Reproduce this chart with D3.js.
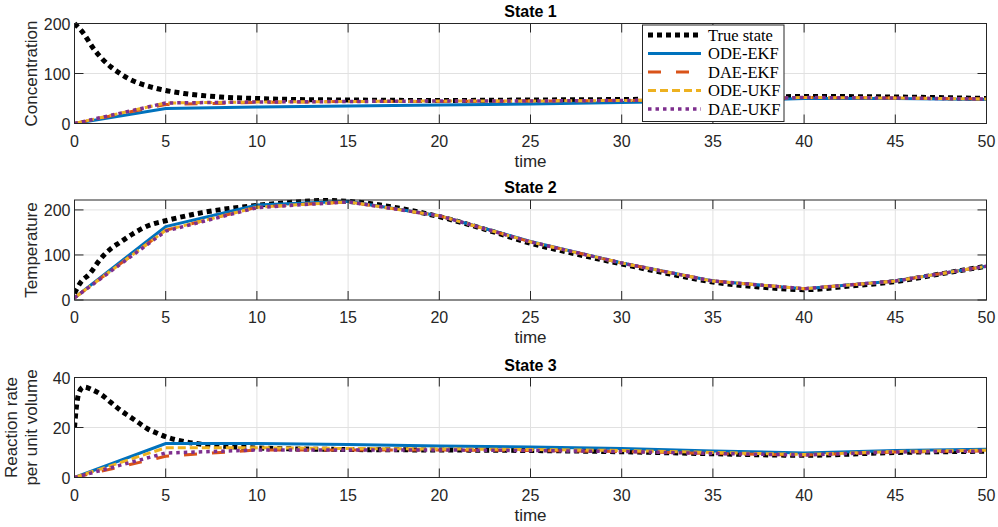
<!DOCTYPE html>
<html>
<head>
<meta charset="utf-8">
<script src="https://cdn.jsdelivr.net/npm/d3@7"></script>
<style>
  body { margin: 0; background: #fff; }
  svg { display: block; }
</style>
</head>
<body>
<div id="chart"></div>
<script>
// filter estimates are sampled every 5 time units
const tKnots = [0, 5, 10, 15, 20, 25, 30, 35, 40, 45, 50];

// State 1 - concentration
const tTrue1 = [0, 0.5, 1, 1.5, 2, 2.5, 3, 3.5, 4, 4.5, 5, 6, 7, 8, 10, 12, 15, 20, 25, 30, 35, 40, 45, 50];
const conc_true = [200, 180, 152, 130, 113, 100, 89, 81, 75, 70, 66, 60, 56, 53, 50, 48, 47, 46, 47, 48, 50, 54, 53, 50];
const conc_ode_ekf = [0, 30, 33, 35, 37, 39, 42, 45, 50, 50, 48];
const conc_dae_ekf = [0, 38, 42, 44, 44, 45, 46, 48, 52, 51, 49];
const conc_ode_ukf = [0, 41, 43, 44, 45, 45, 46, 48, 52, 51, 49];
const conc_dae_ukf = [0, 41, 43, 44, 45, 45, 46, 48, 52, 51, 49];

// State 2 - temperature
const tTrue2 = [0, 0.3, 0.85, 1.4, 2, 2.5, 3.2, 4.1, 5, 7, 10, 12, 13.5, 15, 17.5, 20, 22.5, 25, 27.5, 30, 32.5, 35, 37.5, 40, 42.5, 45, 47.5, 50];
const temp_true = [15, 37, 59, 90, 114, 128, 147, 166, 176, 194, 210, 217, 221, 219, 206, 185, 157, 126, 102, 80, 59, 40, 29, 23, 31, 41, 58, 75];
const temp_ode_ekf = [5, 163, 211, 219, 187, 130, 82, 42, 25, 42, 75];
const temp_dae_ekf = [5, 155, 206, 218, 187, 129, 82, 42, 25, 42, 75];
const temp_ode_ukf = [5, 155, 206, 218, 187, 129, 82, 42, 25, 42, 75];
const temp_dae_ukf = [5, 153, 205, 218, 187, 129, 82, 42, 25, 42, 75];

// State 3 - reaction rate per unit volume
const tTrue3 = [0, 0.1, 0.25, 0.5, 1, 1.5, 2, 2.5, 3, 3.5, 4, 4.5, 5, 6, 7, 8, 10, 15, 20, 25, 30, 35, 40, 45, 50];
const rate_true = [20, 28, 34, 36.2, 35, 33, 30, 27, 24.5, 22, 19.5, 17.8, 16.3, 14.4, 13.3, 12.6, 11.8, 11.2, 11, 10.8, 10.3, 9.5, 8.9, 10, 10.5];
const rate_ode_ekf = [0, 13.6, 13.6, 13.2, 12.6, 12.2, 11.6, 10.6, 9.8, 10.8, 11.3];
const rate_dae_ekf = [0, 8.5, 11.0, 11.0, 11.0, 10.8, 10.4, 9.6, 9.0, 10.2, 10.6];
const rate_ode_ukf = [0, 11.9, 11.9, 11.6, 11.4, 11.2, 10.8, 10.0, 9.2, 10.4, 10.9];
const rate_dae_ukf = [0, 9.8, 11.0, 11.0, 11.0, 10.8, 10.4, 9.6, 9.0, 10.2, 10.6];

const xTicks = [0, 5, 10, 15, 20, 25, 30, 35, 40, 45, 50];
const legendLabels = ["True state", "ODE-EKF", "DAE-EKF", "ODE-UKF", "DAE-UKF"];

const width = 998, height = 527;
const left = 74.5, right = 986.5;

// one style per series, same order as legendLabels
const styles = [
  { color: "#000000", width: 5, dash: "5,4" },
  { color: "#0072BD", width: 3, dash: null },
  { color: "#D95319", width: 3, dash: "13,15" },
  { color: "#EDB120", width: 3, dash: "8,4" },
  { color: "#7E2F8E", width: 3.5, dash: "3.5,4" }
];

const panels = [
  { title: "State 1", top: 23.5, bottom: 123.5, ymax: 200, yTicks: [0, 100, 200], ylabel: ["Concentration"],
    tTrue: tTrue1, yTrue: conc_true, est: [conc_ode_ekf, conc_dae_ekf, conc_ode_ukf, conc_dae_ukf] },
  { title: "State 2", top: 200, bottom: 300, ymax: 222, yTicks: [0, 100, 200], ylabel: ["Temperature"],
    tTrue: tTrue2, yTrue: temp_true, est: [temp_ode_ekf, temp_dae_ekf, temp_ode_ukf, temp_dae_ukf] },
  { title: "State 3", top: 377.5, bottom: 477.5, ymax: 40, yTicks: [0, 20, 40], ylabel: ["Reaction rate", "per unit volume"],
    tTrue: tTrue3, yTrue: rate_true, est: [rate_ode_ekf, rate_dae_ekf, rate_ode_ukf, rate_dae_ukf] }
];

const svg = d3.select("#chart")
  .append("svg")
  .attr("width", width)
  .attr("height", height)
  .style("font-family", "'Liberation Sans', Arial, sans-serif");

const x = d3.scaleLinear().domain([0, 50]).range([left, right]);

panels.forEach((p, pi) => {
  const y = d3.scaleLinear().domain([0, p.ymax]).range([p.bottom, p.top]);
  const g = svg.append("g");

  // grid
  g.selectAll(".gx").data(xTicks).join("line")
    .attr("x1", d => x(d)).attr("x2", d => x(d))
    .attr("y1", p.top).attr("y2", p.bottom)
    .attr("stroke", "#e1e1e1").attr("stroke-width", 1);
  g.selectAll(".gy").data(p.yTicks).join("line")
    .attr("x1", left).attr("x2", right)
    .attr("y1", d => y(d)).attr("y2", d => y(d))
    .attr("stroke", "#e1e1e1").attr("stroke-width", 1);

  const clipId = "clip" + pi;
  g.append("clipPath").attr("id", clipId)
    .append("rect")
    .attr("x", left).attr("y", p.top - 3)
    .attr("width", right - left).attr("height", p.bottom - p.top + 3);

  const lines = g.append("g").attr("clip-path", `url(#${clipId})`);

  // true state: smooth curve
  const trueLine = d3.line()
    .x((d, i) => x(p.tTrue[i]))
    .y(d => y(d))
    .curve(d3.curveMonotoneX);
  lines.append("path")
    .attr("d", trueLine(p.yTrue))
    .attr("fill", "none")
    .attr("stroke", styles[0].color)
    .attr("stroke-width", styles[0].width)
    .attr("stroke-dasharray", styles[0].dash);

  // filter estimates: straight segments between knots
  const estLine = d3.line()
    .x((d, i) => x(tKnots[i]))
    .y(d => y(d));
  p.est.forEach((series, si) => {
    const s = styles[si + 1];
    lines.append("path")
      .attr("d", estLine(series))
      .attr("fill", "none")
      .attr("stroke", s.color)
      .attr("stroke-width", s.width)
      .attr("stroke-dasharray", s.dash);
  });

  // axes box
  g.append("rect")
    .attr("x", left).attr("y", p.top)
    .attr("width", right - left).attr("height", p.bottom - p.top)
    .attr("fill", "none").attr("stroke", "#262626").attr("stroke-width", 1);

  // inward ticks on all four sides
  const tl = 9;
  g.selectAll(".tb").data(xTicks).join("line")
    .attr("x1", d => x(d)).attr("x2", d => x(d))
    .attr("y1", p.bottom).attr("y2", p.bottom - tl)
    .attr("stroke", "#262626");
  g.selectAll(".tt").data(xTicks).join("line")
    .attr("x1", d => x(d)).attr("x2", d => x(d))
    .attr("y1", p.top).attr("y2", p.top + tl)
    .attr("stroke", "#262626");
  g.selectAll(".tl").data(p.yTicks).join("line")
    .attr("x1", left).attr("x2", left + tl)
    .attr("y1", d => y(d)).attr("y2", d => y(d))
    .attr("stroke", "#262626");
  g.selectAll(".tr").data(p.yTicks).join("line")
    .attr("x1", right).attr("x2", right - tl)
    .attr("y1", d => y(d)).attr("y2", d => y(d))
    .attr("stroke", "#262626");

  // tick labels
  g.selectAll(".xl").data(xTicks).join("text")
    .attr("x", d => x(d))
    .attr("y", p.bottom + 23)
    .attr("text-anchor", "middle")
    .attr("font-size", 16)
    .attr("fill", "#262626")
    .text(d => d);
  g.selectAll(".yl").data(p.yTicks).join("text")
    .attr("x", left - 4)
    .attr("y", d => y(d) + 6)
    .attr("text-anchor", "end")
    .attr("font-size", 16)
    .attr("fill", "#262626")
    .text(d => d);

  // title and axis labels
  g.append("text")
    .attr("x", (left + right) / 2)
    .attr("y", p.top - 7)
    .attr("text-anchor", "middle")
    .attr("font-size", 16)
    .attr("font-weight", "bold")
    .attr("fill", "#000")
    .text(p.title);
  g.append("text")
    .attr("x", (left + right) / 2)
    .attr("y", p.bottom + 43)
    .attr("text-anchor", "middle")
    .attr("font-size", 17)
    .attr("fill", "#262626")
    .text("time");

  const midY = (p.top + p.bottom) / 2;
  const n = p.ylabel.length;
  p.ylabel.forEach((lab, li) => {
    const lx = 37 - (n - 1 - li) * 20;
    g.append("text")
      .attr("transform", `translate(${lx},${midY}) rotate(-90)`)
      .attr("text-anchor", "middle")
      .attr("font-size", 17)
      .attr("fill", "#262626")
      .text(lab);
  });
});

// legend in the first panel
const legend = svg.append("g");
legend.append("rect")
  .attr("x", 642.5).attr("y", 25)
  .attr("width", 141.5).attr("height", 96.5)
  .attr("fill", "#fff")
  .attr("stroke", "#262626")
  .attr("stroke-width", 1);

legendLabels.forEach((lab, i) => {
  const ly = 35 + i * 18.5;
  const s = styles[i];
  legend.append("line")
    .attr("x1", 648).attr("x2", 701)
    .attr("y1", ly).attr("y2", ly)
    .attr("stroke", s.color)
    .attr("stroke-width", s.width)
    .attr("stroke-dasharray", s.dash);
  legend.append("text")
    .attr("x", 708)
    .attr("y", ly + 5.5)
    .attr("font-family", "'Liberation Serif', 'Times New Roman', serif")
    .attr("font-size", 16.5)
    .attr("fill", "#000")
    .text(lab);
});
</script>
</body>
</html>
